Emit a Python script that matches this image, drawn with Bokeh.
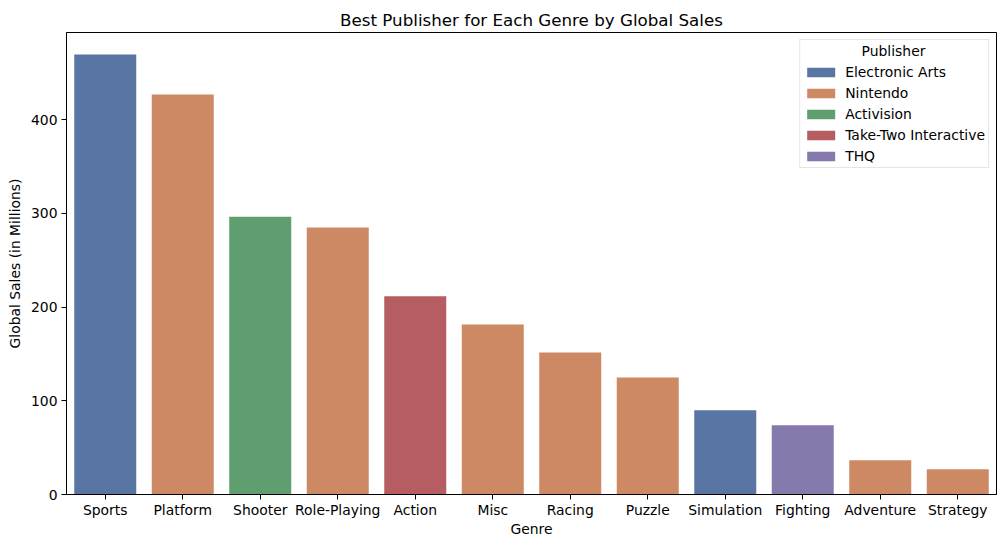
from bokeh.plotting import figure
from bokeh.models import (ColumnDataSource, FactorRange, Range1d, Legend, LegendItem,
                          FixedTicker, Label)
from bokeh.embed import file_html
from bokeh.resources import INLINE

genres = ["Sports", "Platform", "Shooter", "Role-Playing", "Action", "Misc",
          "Racing", "Puzzle", "Simulation", "Fighting", "Adventure", "Strategy"]
sales = [469.6, 427.0, 296.5, 285.0, 211.5, 181.5, 151.5, 125.0, 89.9, 73.9, 36.6, 27.0]
publishers = ["Electronic Arts", "Nintendo", "Activision", "Nintendo", "Take-Two Interactive",
              "Nintendo", "Nintendo", "Nintendo", "Electronic Arts", "THQ", "Nintendo", "Nintendo"]

publisher_order = ["Electronic Arts", "Nintendo", "Activision", "Take-Two Interactive", "THQ"]
publisher_colors = ["#5875a4", "#cc8963", "#5f9e6e", "#b55d60", "#857aab"]
color_of = dict(zip(publisher_order, publisher_colors))

FONT = "DejaVu Sans"
TICK_SIZE = "13.9px"

source = ColumnDataSource(dict(
    genre=genres,
    sales=sales,
    publisher=publishers,
    color=[color_of[p] for p in publishers],
))

p = figure(
    x_range=FactorRange(*genres),
    y_range=Range1d(0, max(sales) * 1.05),
    frame_width=930, frame_height=462,
    width=1005, height=547,
    min_border_left=66, min_border_right=9, min_border_top=32, min_border_bottom=53,
    output_backend="svg", toolbar_location=None,
    title="Best Publisher for Each Genre by Global Sales",
)

bars = p.vbar(x="genre", top="sales", width=0.8, source=source,
              fill_color="color", line_color=None)

# title
p.title.align = "center"
p.title.text_font = FONT
p.title.text_font_size = "16.7px"
p.title.text_font_style = "normal"
p.title.text_color = "black"
p.title.standoff = 5

# frame and grid
p.outline_line_color = "black"
p.outline_line_width = 1
p.outline_line_alpha = 1
p.xgrid.visible = False
p.ygrid.visible = False
p.background_fill_color = "white"
p.border_fill_color = "white"

for ax in (p.xaxis[0], p.yaxis[0]):
    ax.axis_line_color = "black"
    ax.major_tick_line_color = "black"
    ax.major_tick_out = 5
    ax.major_tick_in = 0
    ax.minor_tick_line_color = None
    ax.major_label_text_font = FONT
    ax.major_label_text_font_size = TICK_SIZE
    ax.major_label_text_color = "black"
    ax.axis_label_text_font = FONT
    ax.axis_label_text_font_size = TICK_SIZE
    ax.axis_label_text_font_style = "normal"
    ax.axis_label_text_color = "black"

p.xaxis.axis_label = "Genre"
p.xaxis.major_label_standoff = 2
p.xaxis.axis_label_standoff = 0
p.yaxis.axis_label = "Global Sales (in Millions)"
p.yaxis.ticker = FixedTicker(ticks=[0, 100, 200, 300, 400])
p.yaxis.major_label_standoff = 4
p.yaxis.axis_label_standoff = 5

# legend: one entry per publisher, in order of first appearance
items = [LegendItem(label=pub, renderers=[bars], index=publishers.index(pub))
         for pub in publisher_order]

legend = Legend(
    items=items,
    location="top_right",
    title=" ",
    title_text_font=FONT,
    title_text_font_size=TICK_SIZE,
    title_standoff=5,
    label_text_font=FONT,
    label_text_font_size=TICK_SIZE,
    label_text_color="black",
    label_standoff=7,
    label_height=16,
    glyph_width=35,
    glyph_height=12,
    spacing=5,
    padding=3,
    margin=7,
    border_line_color="#cccccc",
    border_line_width=1,
    background_fill_alpha=0,
)
p.add_layout(legend)

# centred legend heading
heading = Label(
    x=827, y=444, x_units="screen", y_units="screen",
    text="Publisher", text_align="center", text_baseline="middle",
    text_font=FONT, text_font_size=TICK_SIZE, text_color="black",
)
heading.level = "overlay"
p.add_layout(heading)

open("out.html", "w").write(file_html(p, INLINE))
